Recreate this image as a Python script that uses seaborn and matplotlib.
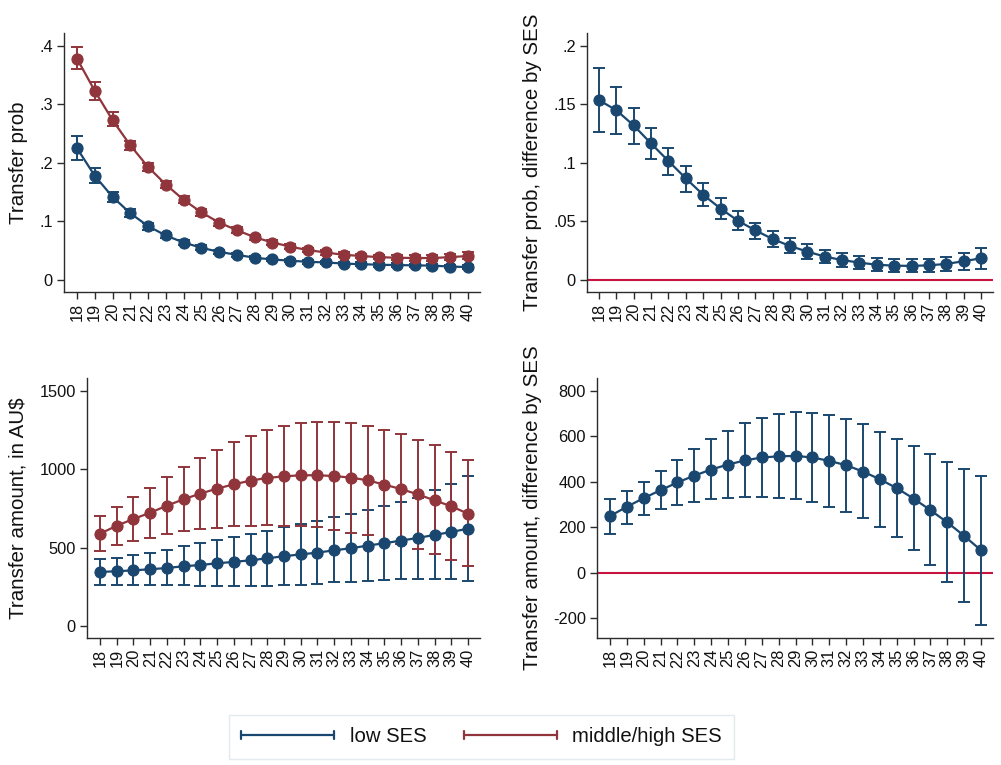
import numpy as np
import pandas as pd
import matplotlib
matplotlib.use("Agg")
import matplotlib.pyplot as plt
import seaborn as sns
from matplotlib.lines import Line2D
from matplotlib.legend_handler import HandlerBase

# ---------------- data ----------------
ages = list(range(18, 41))

prob_low = [0.225, 0.178, 0.142, 0.114, 0.092, 0.076, 0.064, 0.055, 0.048, 0.043, 0.038,
            0.035, 0.033, 0.031, 0.030, 0.028, 0.027, 0.026, 0.0255, 0.025, 0.0245, 0.023, 0.022]
prob_low_lo = [0.205, 0.165, 0.134, 0.107, 0.086, 0.071, 0.059, 0.051, 0.044, 0.040, 0.035,
               0.032, 0.030, 0.028, 0.027, 0.025, 0.024, 0.023, 0.0225, 0.022, 0.021, 0.020, 0.018]
prob_low_hi = [0.245, 0.191, 0.150, 0.121, 0.098, 0.081, 0.069, 0.059, 0.052, 0.046, 0.041,
               0.038, 0.036, 0.034, 0.033, 0.031, 0.030, 0.029, 0.0285, 0.028, 0.028, 0.026, 0.026]

prob_mid = [0.378, 0.323, 0.273, 0.230, 0.193, 0.163, 0.137, 0.1155, 0.098, 0.085, 0.073,
            0.064, 0.057, 0.051, 0.047, 0.043, 0.041, 0.039, 0.038, 0.0375, 0.0375, 0.039, 0.041]
prob_mid_lo = [0.360, 0.308, 0.263, 0.222, 0.186, 0.157, 0.131, 0.110, 0.093, 0.080, 0.069,
               0.060, 0.053, 0.047, 0.043, 0.039, 0.037, 0.035, 0.034, 0.033, 0.033, 0.034, 0.035]
prob_mid_hi = [0.398, 0.338, 0.286, 0.238, 0.200, 0.169, 0.143, 0.121, 0.103, 0.090, 0.077,
               0.068, 0.061, 0.055, 0.051, 0.047, 0.045, 0.043, 0.042, 0.042, 0.042, 0.044, 0.047]

prob_diff = [0.1536, 0.145, 0.132, 0.1166, 0.1016, 0.0868, 0.0728, 0.061, 0.0506, 0.0424, 0.035,
             0.029, 0.0242, 0.020, 0.017, 0.0148, 0.013, 0.0122, 0.012, 0.0125, 0.0137, 0.016, 0.0185]
prob_diff_lo = [0.1263, 0.125, 0.116, 0.103, 0.0896, 0.0754, 0.063, 0.052, 0.0427, 0.0347, 0.0279,
                0.0228, 0.018, 0.0142, 0.0114, 0.009, 0.008, 0.007, 0.0065, 0.0068, 0.008, 0.0085, 0.0094]
prob_diff_hi = [0.1807, 0.1645, 0.147, 0.130, 0.113, 0.0973, 0.083, 0.070, 0.059, 0.049, 0.0418,
                0.0356, 0.0304, 0.026, 0.023, 0.0205, 0.0188, 0.0176, 0.0176, 0.018, 0.020, 0.0233, 0.0276]

amt_low = [345, 349, 355, 362, 370, 381, 389, 400, 409, 419, 432,
           445, 457, 468, 483, 496, 513, 528, 545, 562, 581, 600, 621]
amt_low_lo = [260, 264, 264, 264, 260, 260, 253, 253, 253, 253, 257,
              262, 264, 270, 279, 283, 287, 291, 298, 302, 302, 298, 289]
amt_low_hi = [430, 436, 451, 466, 487, 509, 528, 547, 568, 589, 609,
              632, 649, 670, 696, 715, 738, 768, 794, 819, 870, 904, 955]

amt_mid = [589, 640, 683, 723, 768, 809, 845, 877, 904, 928, 945,
           955, 962, 962, 957, 947, 930, 902, 874, 840, 802, 764, 717]
amt_mid_lo = [481, 517, 543, 564, 587, 604, 617, 628, 638, 638, 643,
              636, 636, 630, 611, 594, 579, 521, 525, 491, 457, 419, 381]
amt_mid_hi = [700, 757, 821, 883, 949, 1013, 1074, 1126, 1174, 1215, 1249,
              1274, 1294, 1302, 1302, 1294, 1274, 1249, 1228, 1189, 1153, 1111, 1062]

amt_diff = [249, 290, 328, 363, 397, 427, 454, 476, 494, 507, 512,
            514, 507, 492, 473, 445, 411, 372, 326, 275, 221, 162, 98]
amt_diff_lo = [172, 216, 253, 280, 299, 313, 322, 329, 334, 334, 329,
               322, 309, 291, 268, 241, 203, 158, 99, 33, -43, -131, -231]
amt_diff_hi = [326, 359, 398, 448, 495, 543, 587, 625, 659, 683, 699,
               706, 705, 696, 678, 653, 621, 590, 557, 521, 488, 455, 426]

prob_ticks = [0, 0.1, 0.2, 0.3, 0.4]
prob_ticklabels = ["0", ".1", ".2", ".3", ".4"]
diffp_ticks = [0, 0.05, 0.1, 0.15, 0.2]
diffp_ticklabels = ["0", ".05", ".1", ".15", ".2"]
amt_ticks = [0, 500, 1000, 1500]
diffa_ticks = [-200, 0, 200, 400, 600, 800]

series_labels = ["low SES", "middle/high SES"]
ylabels = ["Transfer prob", "Transfer prob, difference by SES",
           "Transfer amount, in AU$", "Transfer amount, difference by SES"]

# ---------------- style ----------------
NAVY = "#1a476f"
MAROON = "#90353b"
REFRED = "#c8133f"
AXCOL = "#2b2b2b"

sns.set_style("ticks")
plt.rcParams["font.family"] = ["Liberation Sans", "DejaVu Sans"]
plt.rcParams["axes.edgecolor"] = AXCOL

W, H = 1001, 765
fig = plt.figure(figsize=(W / 100, H / 100), dpi=100)
fig.patch.set_facecolor("white")


def make_axes(left, right, top, bottom):
    return fig.add_axes([left / W, 1 - bottom / H, (right - left) / W, (bottom - top) / H])


def draw_series(ax, y, lo, hi, color):
    y = np.asarray(y, float)
    lo = np.asarray(lo, float)
    hi = np.asarray(hi, float)
    ax.errorbar(ages, y, yerr=[y - lo, hi - y], fmt="none", ecolor=color,
                elinewidth=1.4, capsize=4, capthick=1.4, zorder=2)
    df = pd.DataFrame({"age": ages, "value": y})
    sns.lineplot(data=df, x="age", y="value", ax=ax, color=color, lw=1.6,
                 marker="o", markersize=8, markeredgecolor=color,
                 markeredgewidth=0.8, zorder=3)


def style_axes(ax, xlim, ylim, yticks, yticklabels, ylabel):
    ax.set_xlim(*xlim)
    ax.set_ylim(*ylim)
    ax.set_xticks(ages)
    ax.set_xticklabels([str(a) for a in ages], rotation=90)
    ax.set_yticks(yticks)
    ax.set_yticklabels(yticklabels)
    ax.set_xlabel("")
    ax.set_ylabel(ylabel, fontsize=14.8, color="#111111")
    sns.despine(ax=ax)
    for s in ("left", "bottom"):
        ax.spines[s].set_linewidth(1.0)
        ax.spines[s].set_color(AXCOL)
    ax.tick_params(axis="both", direction="out", length=5, width=1.0,
                   color=AXCOL, labelsize=11.8, labelcolor="#111111", pad=3)
    ax.set_facecolor("white")


# top-left
ax1 = make_axes(64, 480, 33, 292)
draw_series(ax1, prob_low, prob_low_lo, prob_low_hi, NAVY)
draw_series(ax1, prob_mid, prob_mid_lo, prob_mid_hi, MAROON)
style_axes(ax1, (17.27, 40.68), (-0.0205, 0.4217), prob_ticks, prob_ticklabels, ylabels[0])
ax1.yaxis.set_label_coords((28 - 64) / 416, 0.5)

# top-right
ax2 = make_axes(587, 993, 33, 292)
ax2.axhline(0, color=REFRED, lw=1.5, zorder=1)
draw_series(ax2, prob_diff, prob_diff_lo, prob_diff_hi, NAVY)
style_axes(ax2, (17.31, 40.69), (-0.0103, 0.211), diffp_ticks, diffp_ticklabels, ylabels[1])
ax2.yaxis.set_label_coords((542 - 587) / 406, 0.5)

# bottom-left
ax3 = make_axes(87, 480, 378, 638)
draw_series(ax3, amt_low, amt_low_lo, amt_low_hi, NAVY)
draw_series(ax3, amt_mid, amt_mid_lo, amt_mid_hi, MAROON)
style_axes(ax3, (17.22, 40.72), (-77, 1583), amt_ticks, [str(t) for t in amt_ticks], ylabels[2])
ax3.yaxis.set_label_coords((28 - 87) / 393, 0.5)

# bottom-right
ax4 = make_axes(597, 993, 378, 638)
ax4.axhline(0, color=REFRED, lw=1.5, zorder=1)
draw_series(ax4, amt_diff, amt_diff_lo, amt_diff_hi, NAVY)
style_axes(ax4, (17.23, 40.71), (-288, 857), diffa_ticks, [str(t) for t in diffa_ticks], ylabels[3])
ax4.yaxis.set_label_coords((542 - 597) / 396, 0.5)


# ---------------- legend ----------------
class CapLineHandler(HandlerBase):
    def create_artists(self, legend, orig_handle, xdescent, ydescent,
                       width, height, fontsize, trans):
        c = orig_handle.get_color()
        x0 = -xdescent
        x1 = width - xdescent
        y = (height - ydescent) / 2.0
        h = height * 0.55
        arts = [Line2D([x0, x1], [y, y], color=c, lw=1.6),
                Line2D([x0, x0], [y - h / 2, y + h / 2], color=c, lw=1.6),
                Line2D([x1, x1], [y - h / 2, y + h / 2], color=c, lw=1.6)]
        for a in arts:
            a.set_transform(trans)
        return arts


handles = [Line2D([], [], color=NAVY), Line2D([], [], color=MAROON)]
leg = fig.legend(handles, series_labels, loc="center",
                 bbox_to_anchor=(481.5 / W, 1 - 737 / H), ncol=2,
                 frameon=True, fancybox=False, edgecolor="#dce5ea",
                 fontsize=14.6, handlelength=4.6, handletextpad=0.75,
                 columnspacing=1.85, borderpad=0.6,
                 handler_map={Line2D: CapLineHandler()})
leg.get_frame().set_linewidth(1.0)
for t in leg.get_texts():
    t.set_color("#111111")

fig.savefig("out.png", dpi=100, facecolor="white")
